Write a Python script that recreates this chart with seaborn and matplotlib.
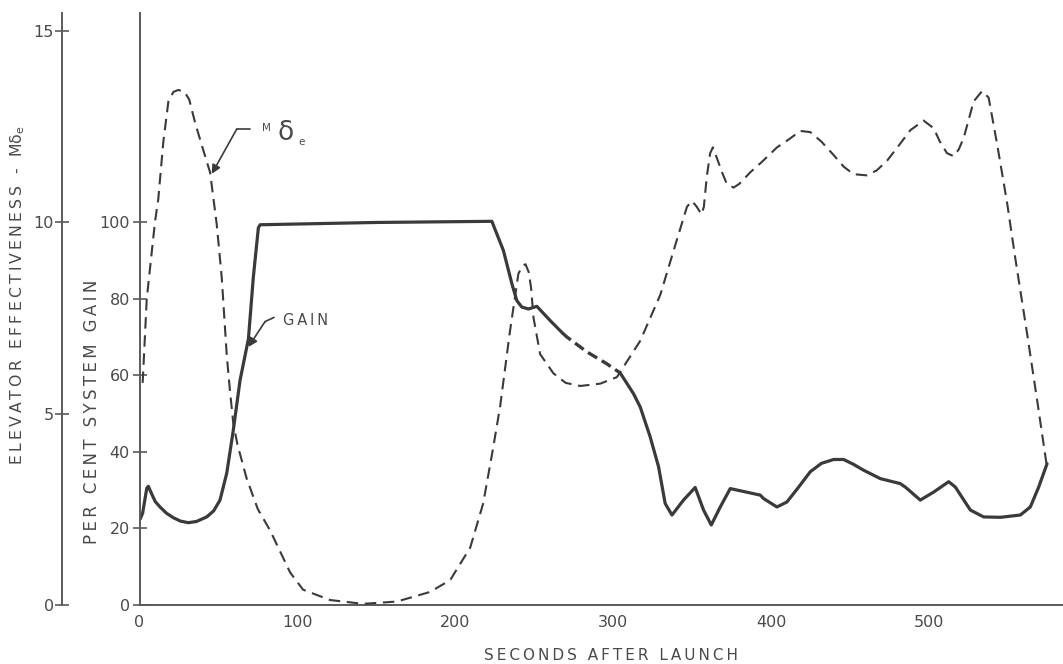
import numpy as np
import pandas as pd
import seaborn as sns
import matplotlib.pyplot as plt

# elevator effectiveness M-delta-e (dashed curve), seconds after launch
md_t = [2, 4.6, 9.8, 11.9, 15.1, 18.3, 21.5, 24.6, 28.5, 31.5, 35.2, 39.5, 44.7, 48.9,
        52.1, 55.3, 57.3, 59.4, 62, 67.9, 75, 82.7, 95.4, 103.6, 120.7, 141.6, 163, 184,
        196.8, 209.5, 217.7, 224, 228.5, 234.5, 237.7, 240, 242.5, 244.5, 246.5, 248,
        249.6, 253.8, 262.2, 270, 279.2, 291.8, 302.4, 317.2, 329.9, 338.3, 346.8, 350,
        353, 356, 357.5, 359.4, 361.5, 363.2, 365.5, 369, 372, 376.3, 380, 386.9, 395,
        403.8, 411, 418.6, 424.9, 432, 439.7, 446, 452.3, 460.8, 467, 473.5, 481, 488.3,
        496.7, 503.1, 507, 511.5, 515.7, 519, 522.1, 528.4, 533.7, 537.9, 543.2, 549.6,
        554.8, 562.2, 568.6, 574.5]
md_val = [5.8, 8.0, 10.0, 10.6, 12.1, 13.15, 13.4, 13.45, 13.4, 13.2, 12.6, 12.0, 11.3, 9.95,
          8.55, 6.5, 5.6, 4.75, 4.2, 3.3, 2.5, 1.95, 0.85, 0.4, 0.13, 0.03, 0.09, 0.34,
          0.65, 1.5, 2.65, 4.1, 5.2, 7.1, 8.0, 8.65, 8.85, 8.9, 8.7, 8.3,
          7.5, 6.55, 6.05, 5.8, 5.72, 5.78, 5.95, 6.9, 8.1, 9.25, 10.4, 10.55,
          10.4, 10.2, 10.4, 11.2, 11.8, 11.95, 11.7, 11.3, 11.0, 10.9, 11.0, 11.3, 11.6,
          11.95, 12.15, 12.38, 12.35, 12.1, 11.75, 11.45, 11.25, 11.22, 11.35, 11.6, 12.0, 12.4,
          12.65, 12.45, 12.1, 11.8, 11.72, 11.9, 12.2, 13.15, 13.42, 13.25, 12.05, 10.5,
          9.05, 7.1, 5.35, 3.7]

# per cent system gain (solid curve)
gain_t = [0.5, 2, 4.6, 5.6, 7.5, 10, 13, 17, 21.4, 26, 30.9, 36, 42.6, 47, 51, 55.3, 59.4,
          63.7, 69, 72.1, 75.3, 76.4, 150, 223.2, 230.5, 235.9, 239, 242.2, 246.4, 251.7,
          260.1, 268, 270.7, 283.4, 296, 304.5, 312.9, 317.2, 323.5, 328.8, 333, 337.3,
          344.6, 352, 357.3, 362.2, 367.9, 374.2, 393.2, 395.3, 403.8, 410.1, 417, 424.9,
          432, 439.7, 446, 452, 458.7, 469.3, 481.9, 485.1, 494.6, 503.1, 512.6, 516.8,
          526.3, 534.7, 545.3, 558, 564.3, 569.6, 574.9]
gain_val = [22.5, 24, 30.5, 31.0, 29.2, 27.0, 25.6, 24.0, 22.8, 21.9, 21.5, 21.8, 23.0, 24.6,
            27.4, 34.5, 45.6, 58.7, 69.5, 85.6, 98.5, 99.3, 99.9, 100.2, 92.6, 83.9, 79.5,
            77.8, 77.3, 78.0, 74.3, 71.0, 70.0, 66.1, 63.0, 60.6, 55.2, 51.7, 43.9, 36.1,
            26.5, 23.5, 27.4, 30.7, 24.8, 20.9, 25.6, 30.4, 28.7, 27.8, 25.6, 26.9, 30.5,
            34.8, 37.0, 38.0, 38.0, 36.8, 35.2, 33.0, 31.7, 30.8, 27.4, 29.5, 32.2, 30.8,
            24.8, 23.0, 22.9, 23.5, 25.6, 30.8, 36.9]
# stretch of the gain curve drawn as a heavy dashed line
gain_dash_span = (268, 304.5)

x_ticks = [0, 100, 200, 300, 400, 500]
gain_ticks = [0, 20, 40, 60, 80, 100]
md_ticks = [0, 5, 10, 15]

W, H = 1063, 664
ink = "#3a3a3a"
axis_col = "#5a5a5a"
text_col = "#4a4a4a"

sns.set_style("white")
plt.rcParams["font.family"] = ["DejaVu Sans"]


def spaced(s):
    return "\u2009".join(s)


md = pd.DataFrame({"t": md_t, "m": md_val})
gain = pd.DataFrame({"t": gain_t, "g": gain_val})
lo, hi = gain_dash_span

fig = plt.figure(figsize=(W / 100, H / 100), dpi=100)
ax = fig.add_axes([139.5 / W, 59 / H, (W - 139.5) / W, 592 / H])

sns.lineplot(data=gain[gain.t <= lo], x="t", y="g", ax=ax, color=ink, lw=2.3,
             estimator=None)
sns.lineplot(data=gain[(gain.t >= lo) & (gain.t <= hi)], x="t", y="g", ax=ax,
             color=ink, lw=2.4, estimator=None, ls=(0, (3.2, 1.6)))
sns.lineplot(data=gain[gain.t >= hi], x="t", y="g", ax=ax, color=ink, lw=2.3,
             estimator=None)

ax2 = ax.twinx()
sns.lineplot(data=md, x="t", y="m", ax=ax2, color=ink, lw=1.5, estimator=None,
             ls=(0, (5.5, 3.2)))

ax.set_xlim(0, 585)
ax.set_ylim(0, 154.6)
ax2.set_ylim(0, 15.46)

ax.set_xticks(x_ticks)
ax.set_yticks(gain_ticks)
ax2.set_yticks(md_ticks)
ax.set_xlabel("")
ax.set_ylabel("")
ax2.set_ylabel("")

for a in (ax, ax2):
    for s in ("top", "right"):
        a.spines[s].set_visible(False)
ax2.spines["bottom"].set_visible(False)
for s in ("left", "bottom"):
    ax.spines[s].set_color(axis_col)
    ax.spines[s].set_linewidth(1.4)
ax2.spines["left"].set_color(axis_col)
ax2.spines["left"].set_linewidth(1.4)
ax2.spines["left"].set_position(("outward", 77.5 * 0.72))
ax2.yaxis.set_ticks_position("left")

ax.tick_params(direction="inout", length=10, width=1.2, color=axis_col,
               labelcolor=text_col, labelsize=11.5, pad=2)
ax2.tick_params(direction="inout", length=10, width=1.2, color=axis_col,
                labelcolor=text_col, labelsize=11.5, pad=1)

fig.text(18 / W, 1 - 295 / H,
         spaced("ELEVATOR EFFECTIVENESS - M") + r"$\mathregular{\delta_e}$",
         rotation=90, ha="center", va="center", fontsize=11.3, color=text_col)
fig.text(92 / W, 1 - 412 / H, spaced("PER CENT SYSTEM GAIN"), rotation=90,
         ha="center", va="center", fontsize=12, color=text_col)
fig.text(611 / W, 1 - 655 / H, spaced("SECONDS AFTER LAUNCH"), ha="center",
         va="center", fontsize=11, color=text_col)

# callouts
arrow = dict(arrowstyle="-|>", color=ink, lw=1.2, mutation_scale=13,
             shrinkA=0, shrinkB=0)
ax.plot([70, 61.6], [124.3, 124.3], color=ink, lw=1.2)
ax.annotate("", xy=(45.8, 112.6), xytext=(61.6, 124.3), arrowprops=arrow)
ax.text(77.6, 124.6, "M", fontsize=7.5, color=text_col, va="center")
ax.text(87.5, 123.3, "\u03b4", fontsize=19, color=text_col, va="center")
ax.text(100.5, 120.8, "e", fontsize=7.5, color=text_col, va="center")

ax.plot([85.2, 79.5], [75.1, 74.0], color=ink, lw=1.2)
ax.annotate("", xy=(69, 67.4), xytext=(79.5, 74.0), arrowprops=arrow)
ax.text(91, 74.3, spaced("GAIN"), fontsize=10.5, color=text_col, va="center")

fig.savefig("out.png", dpi=100, facecolor="white")
